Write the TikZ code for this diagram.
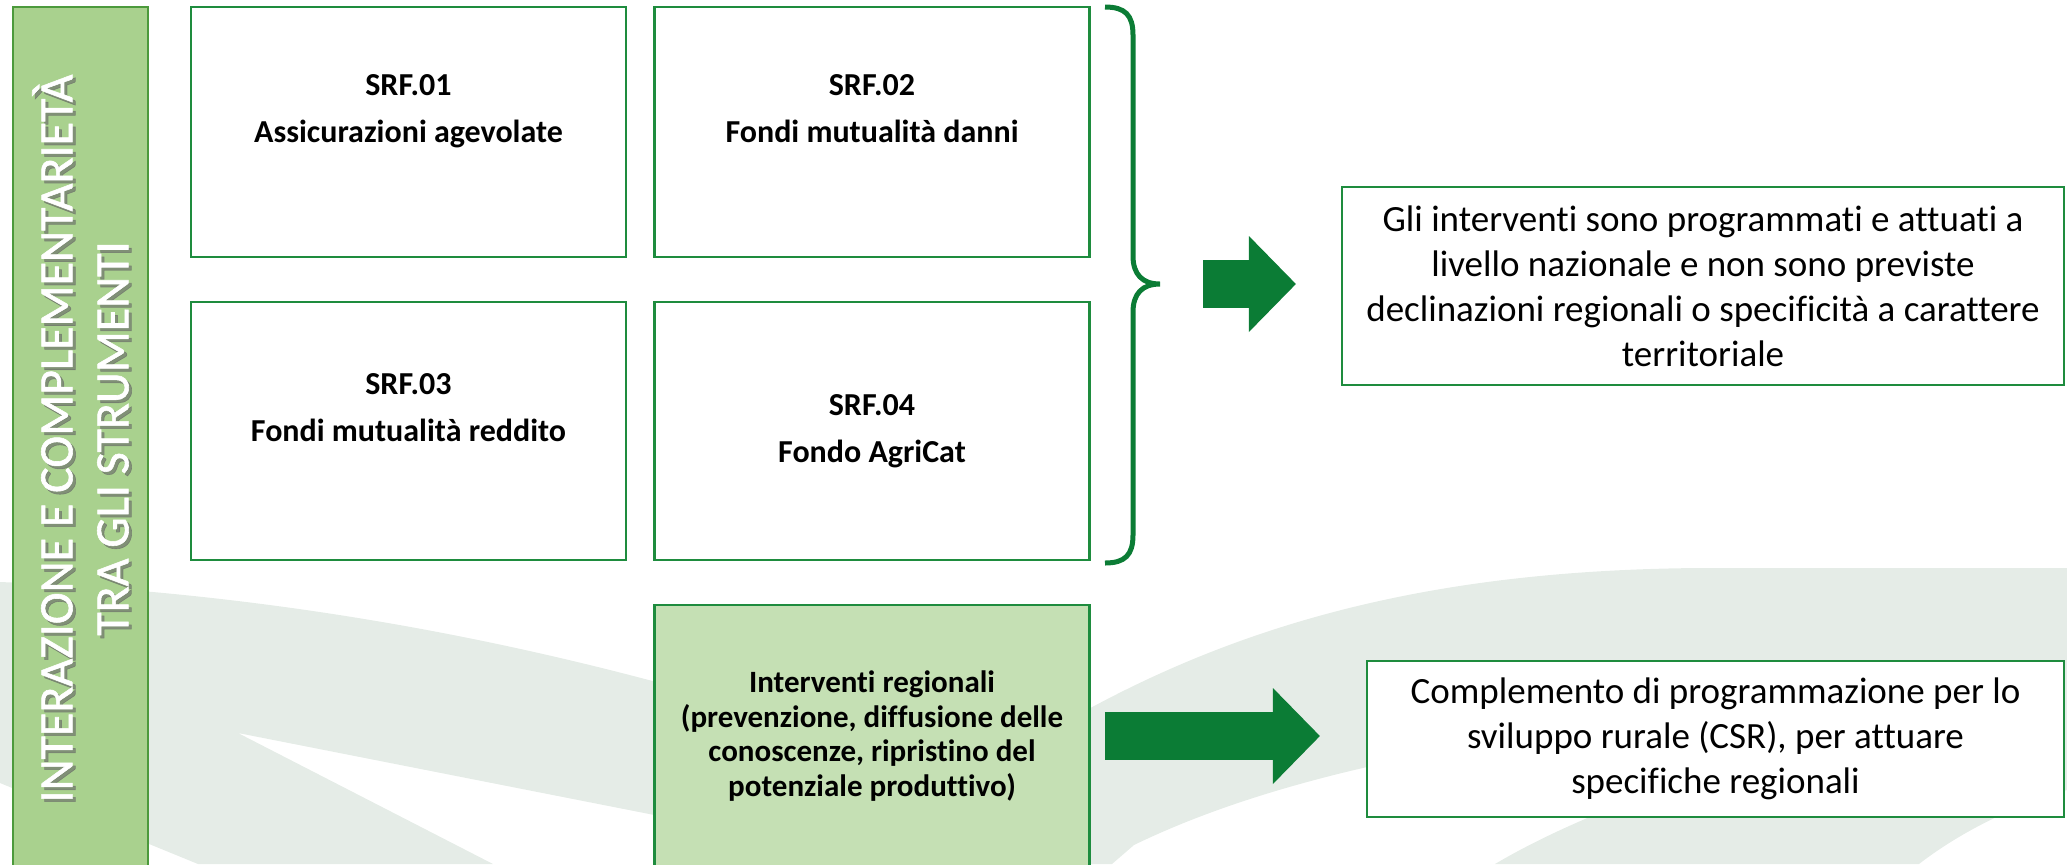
\documentclass[tikz,border=0pt]{standalone}
\usepackage{fontspec}
\setmainfont{Carlito}[Ligatures={NoCommon,NoRare,NoContextual}]
\newfontfamily\carattereBarra{Carlito}[FakeBold=1.2]
\usetikzlibrary{arrows.meta,positioning,calc}
\definecolor{rrnverde}{HTML}{0B7C35}
\definecolor{rrnbordo}{HTML}{1E8C3E}
\definecolor{rrnbarra}{HTML}{A9D18E}
\definecolor{rrnlinea}{HTML}{4C9A3C}
\definecolor{rrnchiaro}{HTML}{C5E0B4}
\definecolor{rrnsfondo}{HTML}{E5ECE7}

\begin{document}
\begin{tikzpicture}[x=0.5pt,y=-0.5pt,
    riquadro/.style = {draw=rrnbordo,line width=1.3pt,fill=white,align=center,
                       minimum width=217.5pt,inner sep=0pt,
                       font=\fontsize{16pt}{23.5pt}\selectfont\bfseries},
    esito/.style    = {draw=rrnbordo,line width=1.1pt,fill=white,align=center,
                       inner sep=0pt,font=\fontsize{18.5pt}{22.5pt}\selectfont},
    titolo/.style   = {rotate=90,align=center,inner sep=0pt,
                       font=\carattereBarra\fontsize{24pt}{28pt}\selectfont},
    freccia/.style  = {line width=24pt,draw=rrnverde,
                       -{Triangle[length=23.5pt,width=48pt,line width=0pt]}},
    sfondo/.style   = {fill=rrnsfondo},
  ]
  \useasboundingbox (0,0) rectangle (2067,864);

  % Motivo grigio di sfondo
  \fill[sfondo] (0,582) .. controls (250,592) and (480,632) .. (700,694)
     -- (700,824) -- (238,733) -- (493,864) -- (198,864) -- (0,783) -- cycle;
  \fill[sfondo] (1060,725) .. controls (1250,615) and (1450,570) .. (1700,568)
     -- (2067,568) -- (2067,700) .. controls (1700,705) and (1350,740) .. (1134,845)
     -- (1112,864) -- (1060,864) -- cycle;
  \fill[sfondo] (1495,864) .. controls (1620,790) and (1850,720) .. (2067,700)
     -- (2067,790) .. controls (2000,810) and (1950,840) .. (1919,864) -- cycle;

  % Barra laterale, testo con ombra
  \node[draw=rrnlinea,line width=0.75pt,fill=rrnbarra,rotate=90,
        minimum width=431.5pt,minimum height=67.5pt] (barra) at (80.5,438.5) {};
  \node[titolo,text=black!60,opacity=0.6] (ombra)
        at ([shift={(1.5pt,-1.5pt)}]barra.center)
        {INTERAZIONE E COMPLEMENTARIETÀ\\TRA GLI STRUMENTI};
  \node[titolo,text=white] (intestazione) at (barra.center)
        {INTERAZIONE E COMPLEMENTARIETÀ\\TRA GLI STRUMENTI};

  % Strumenti SRF
  \foreach \nome/\cx/\cy/\alt/\testo in {
      srf01/408.5/132/125/{SRF.01\\Assicurazioni agevolate\\~},
      srf02/872/132/125/{SRF.02\\Fondi mutualità danni\\~},
      srf03/408.5/431/129/{SRF.03\\Fondi mutualità reddito\\~},
      srf04/872/431/129/{SRF.04\\Fondo AgriCat}}
  {
    \node[riquadro,minimum height=\alt pt] (\nome) at (\cx,\cy) {\testo};
  }

  \node[riquadro,fill=rrnchiaro,minimum height=131pt,
        font=\fontsize{15.5pt}{17.25pt}\selectfont\bfseries] (reg) at (872,736)
        {Interventi regionali\\(prevenzione, diffusione delle\\conoscenze, ripristino del\\potenziale produttivo)};

  % Esiti
  \node[esito,minimum width=361pt,minimum height=99pt] (gen) at (1703,286)
        {Gli interventi sono programmati e attuati a\\livello nazionale e non sono previste\\declinazioni regionali o specificità a carattere\\territoriale};
  \node[esito,minimum width=348.5pt,minimum height=78pt] (csr) at (1715.5,739)
        {Complemento di programmazione per lo\\sviluppo rurale (CSR), per attuare\\specifiche regionali};

  % Graffa
  \coordinate (punta) at (1160,284);
  \draw[rrnverde,line width=2.5pt]
    (1105,7) .. controls (1125,7) and (1133,15) .. (1133,35) -- (1133,256)
    .. controls (1133,274) and (1142,284) .. (punta)
    .. controls (1142,284) and (1133,294) .. (1133,312) -- (1133,535)
    .. controls (1133,555) and (1125,563) .. (1105,563);

  % Frecce
  \draw[freccia,shorten <=21.5pt,shorten >=22.5pt] (punta) -- (punta -| gen.west);
  \draw[freccia,shorten <=7pt,shorten >=23pt] (reg.east) -- (reg.east -| csr.west);

\end{tikzpicture}
\end{document}
